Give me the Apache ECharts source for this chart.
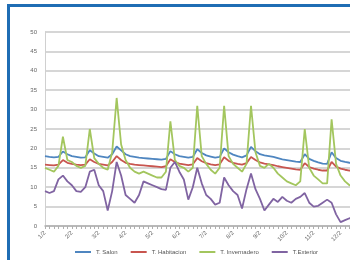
<!DOCTYPE html>
<html>
<head>
<meta charset="utf-8">
<script src="https://cdn.jsdelivr.net/npm/echarts@6/dist/echarts.min.js"></script>
<style>
  html, body { margin: 0; padding: 0; width: 350px; height: 260px; overflow: hidden; background: #fff; }
  #frame { position: absolute; left: 7px; top: 4px; width: 400px; height: 300px;
           border-top: 3px solid #1f6db4; border-left: 3px solid #1f6db4; }
  #chart { position: absolute; left: 0; top: 0; width: 360px; height: 260px; }
</style>
</head>
<body>
<div id="frame"></div>
<div id="chart"></div>
<script>
  // 6 lecturas por dia, 12 dias
  var dias = ['1/2', '2/2', '3/2', '4/2', '5/2', '6/2', '7/2', '8/2', '9/2', '10/2', '11/2', '12/2'];
  var horas = [];
  for (var d = 0; d < dias.length; d++) {
    for (var h = 0; h < 6; h++) {
      if (horas.length < 70) horas.push(h === 0 ? dias[d] : dias[d] + ' ' + (h * 4) + 'h');
    }
  }

  var tSalon = [18, 17.8, 17.7, 17.8, 19.2, 18.5, 18, 17.8, 17.6, 17.7,
    19.5, 18.7, 18, 17.8, 17.6, 18.5, 20.5, 19.5, 18.5, 18,
    17.8, 17.6, 17.5, 17.4, 17.3, 17.2, 17.1, 17.3, 19.3, 18.5,
    18, 17.8, 17.6, 17.8, 19.8, 18.8, 18.2, 17.9, 17.6, 17.8,
    20, 19, 18.4, 18, 17.7, 18.2, 20.4, 19.3, 18.5, 18.2,
    18, 17.8, 17.5, 17.2, 17, 16.8, 16.6, 16.5, 18.5, 17.3,
    16.8, 16.4, 16.1, 16, 19, 17.5, 16.8, 16.5, 16.3, 16.2];

  var tHabitacion = [15.8, 15.7, 15.6, 15.8, 17, 16.3, 16, 15.8, 15.7, 15.8,
    17.2, 16.5, 16, 15.8, 15.6, 16.5, 18, 17, 16.3, 16,
    15.8, 15.7, 15.6, 15.5, 15.4, 15.3, 15.2, 15.4, 17.2, 16.5,
    16.1, 15.9, 15.7, 15.9, 17.5, 16.7, 16.2, 15.9, 15.7, 15.9,
    17.7, 16.8, 16.3, 16, 15.8, 16.2, 17.8, 17, 16.4, 16.1,
    15.9, 15.7, 15.4, 15.2, 15, 14.8, 14.6, 14.5, 16.2, 15.2,
    14.8, 14.5, 14.3, 14.3, 16.5, 15.3, 14.8, 14.5, 14.3, 14.2];

  var tInvernadero = [15, 14.5, 14, 15.5, 23, 17, 16.5, 15.5, 15, 15.5,
    25, 17.5, 16, 15, 14.5, 19, 33, 21, 17, 15,
    14, 13.5, 14, 13.5, 13, 12.5, 12.5, 14, 27, 17,
    15.5, 15, 14, 15, 31, 18, 16, 14.5, 13.5, 15,
    31, 18, 16, 15, 14, 16, 31, 19, 15.5, 15,
    16, 15, 13.5, 12.5, 11.5, 11, 10.5, 11.5, 25, 15,
    13, 12, 11, 11, 27.5, 16, 13, 11.5, 10.5, 10];

  var tExterior = [9, 8.5, 9, 12, 13, 11.5, 10.5, 9, 8.8, 10,
    14, 14.5, 10.5, 9, 4, 9, 16.5, 13, 8, 7,
    6, 8, 11.5, 11, 10.5, 10, 9.5, 9.3, 15, 16.5,
    14, 12, 6.8, 10, 15, 11, 8, 7, 5.5, 6,
    12.5, 10.5, 9, 8, 4.5, 9.5, 13.5, 9.5, 7, 4,
    5.5, 7, 6.2, 7.5, 6.5, 6, 7, 7.5, 8.5, 6,
    5, 5.2, 6, 6.8, 6, 3, 1, 1.5, 2, 2];

  var nombres = ['T. Salon', 'T. Habitacion', 'T. Invernadero', 'T.Exterior'];
  var colores = ['#4f86c0', '#c8554f', '#a3c65e', '#8064a2'];
  var datos = [tSalon, tHabitacion, tInvernadero, tExterior];

  var chart = echarts.init(document.getElementById('chart'), null, { renderer: 'canvas' });

  var series = [];
  for (var i = 0; i < nombres.length; i++) {
    series.push({
      name: nombres[i],
      type: 'line',
      data: datos[i],
      showSymbol: false,
      smooth: false,
      lineStyle: { width: 1.8, color: colores[i] },
      itemStyle: { color: colores[i] }
    });
  }

  var option = {
    animation: false,
    textStyle: { fontFamily: 'Liberation Sans' },
    grid: { left: 45, right: 6, top: 32, bottom: 34 },
    legend: {
      data: nombres,
      left: 70,
      bottom: 0,
      itemWidth: 16,
      itemHeight: 2,
      itemGap: 13,
      icon: 'rect',
      textStyle: { fontSize: 6, color: '#555' }
    },
    xAxis: {
      type: 'category',
      data: horas,
      boundaryGap: false,
      axisLine: { lineStyle: { color: '#b0b0b0', width: 1.5 } },
      axisTick: { show: true, interval: 0, length: 3, alignWithLabel: true, lineStyle: { color: '#b0b0b0' } },
      axisLabel: {
        interval: 5,
        rotate: 45,
        fontSize: 6,
        color: '#666',
        margin: 6,
        formatter: function (v) { return v.split(' ')[0]; }
      },
      splitLine: { show: false }
    },
    yAxis: {
      type: 'value',
      min: 0,
      max: 50,
      interval: 5,
      axisLine: { show: true, lineStyle: { color: '#d0d0d0', width: 1 } },
      axisTick: { show: false },
      axisLabel: { fontSize: 6, color: '#666', margin: 8 },
      splitLine: { lineStyle: { color: '#c8c8c8', width: 1.5 } }
    },
    series: series
  };

  chart.setOption(option);
  window.addEventListener('resize', chart.resize);
</script>
</body>
</html>
